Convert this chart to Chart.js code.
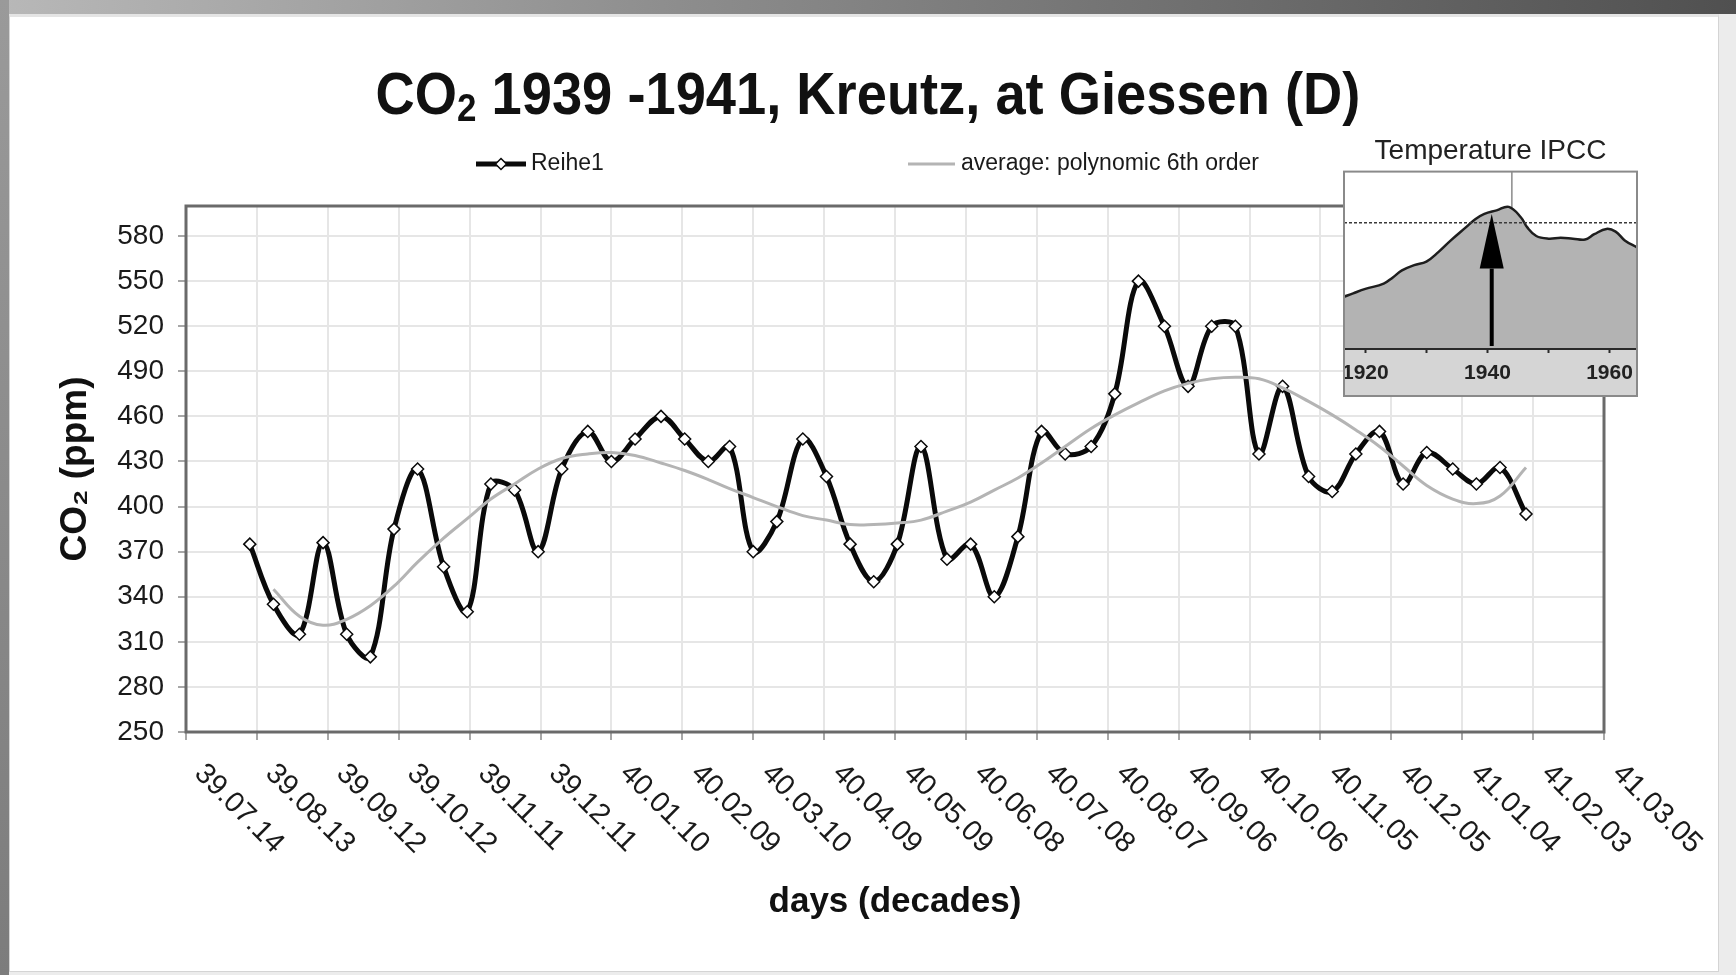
<!DOCTYPE html>
<html lang="en">
<head>
<meta charset="UTF-8">
<title>CO2 1939 -1941, Kreutz, at Giessen (D)</title>
<script src="https://cdn.jsdelivr.net/npm/chart.js"></script>
<style>
  html, body { margin: 0; padding: 0; }
  body {
    width: 1736px; height: 975px; position: relative; overflow: hidden;
    background: #ececec;
  }
  #topbar { position: absolute; left: 0; top: 0; width: 1736px; height: 14px;
    background: linear-gradient(to right, #b8b8b8, #8c8c8c 40%, #505050); }
  #leftbar { position: absolute; left: 0; top: 0; width: 9px; height: 975px;
    background: linear-gradient(to bottom, #9a9a9a, #7c7c7c); }
  #panel { position: absolute; left: 9px; top: 14px; width: 1710px; height: 958px;
    background: #fff; border: 1px solid #d4d4d4; border-top: 3px solid #e4e4e4; box-sizing: border-box; }
  #main { position: absolute; left: 0; top: 0; }
  #inset { position: absolute; left: 1330px; top: 124px; }
</style>
</head>
<body>
<div id="topbar"></div>
<div id="leftbar"></div>
<div id="panel"></div>
<canvas id="main" width="1736" height="975"></canvas>
<canvas id="inset" width="320" height="278"></canvas>

<script>
// axis tick labels (30 day steps, yy.mm.dd)
const tickLabels = ['39.07.14', '39.08.13', '39.09.12', '39.10.12', '39.11.11', '39.12.11',
                    '40.01.10', '40.02.09', '40.03.10', '40.04.09', '40.05.09', '40.06.08',
                    '40.07.08', '40.08.07', '40.09.06', '40.10.06', '40.11.05', '40.12.05',
                    '41.01.04', '41.02.03', '41.03.05'];
const yTicks = [250, 280, 310, 340, 370, 400, 430, 460, 490, 520, 550, 580];

// end of each decade (10 day period)
const dates = ['39.08.10', '39.08.20', '39.08.31', '39.09.10', '39.09.20', '39.09.30',
               '39.10.10', '39.10.20', '39.10.31', '39.11.10', '39.11.20', '39.11.30',
               '39.12.10', '39.12.20', '39.12.31', '40.01.10', '40.01.20', '40.01.31',
               '40.02.10', '40.02.20', '40.02.29', '40.03.10', '40.03.20', '40.03.31',
               '40.04.10', '40.04.20', '40.04.30', '40.05.10', '40.05.20', '40.05.31',
               '40.06.10', '40.06.20', '40.06.30', '40.07.10', '40.07.20', '40.07.31',
               '40.08.10', '40.08.20', '40.08.31', '40.09.10', '40.09.20', '40.09.30',
               '40.10.10', '40.10.20', '40.10.31', '40.11.10', '40.11.20', '40.11.30',
               '40.12.10', '40.12.20', '40.12.31', '41.01.10', '41.01.20', '41.01.31'];

// CO2 ppm, series "Reihe1"
const co2 = [375, 335, 315, 376, 315, 300, 385, 425, 360, 330,
             415, 411, 370, 425, 450, 430, 445, 460, 445, 430,
             440, 370, 390, 445, 420, 375, 350, 375, 440, 365,
             375, 340, 380, 450, 435, 440, 475, 550, 520, 480,
             520, 520, 435, 480, 420, 410, 435, 450, 415, 436,
             425, 415, 426, 395];

// polynomial trend
const trend = [null, 345, 327, 321, 325, 334, 347, 363, 379, 392,
               405, 415, 425, 432, 435, 436, 434, 429, 424, 418,
               412, 406, 400, 394, 391, 388, 388, 389, 391, 397,
               403, 411, 419, 429, 440, 452, 461, 469, 477, 482,
               485, 486, 485, 479, 470, 461, 451, 440, 427, 414,
               405, 402, 407, 426];

// inset "Temperature IPCC" (relative units, 0 = axis)
const insetYears = [1916.5, 1918, 1920, 1923, 1924.5, 1926, 1928, 1930, 1932, 1934,
                    1936.5, 1938, 1939.5, 1941.5, 1943.5, 1945.5, 1946.5, 1948, 1950, 1952,
                    1954, 1956, 1957.5, 1959.5, 1961, 1962.5, 1964.5];
const insetTemp = [29, 31, 33.5, 36.5, 40, 44, 47, 49, 54.5, 61,
                   68.5, 73, 76, 78, 80, 74, 68.5, 63.5, 62, 62.5,
                   62, 61.5, 64.5, 67.5, 66, 61, 57];
const insetLabels = [1920, 1940, 1960];
const refLevel = 71;
const markYear = 1944;
const arrowYear = 1940.7, arrowTip = 76, arrowBase = 45;

const FONT = '"Liberation Sans", Arial, sans-serif';

function dayOf(s) {
    const p = s.split('.').map(Number);
    return Date.UTC(1900 + p[0], p[1] - 1, p[2]) / 86400000;
}

// title, legend, plot frame and slanted date labels
const decor = {
    id: 'decor',
    beforeDatasetsDraw(chart) {
        const {ctx, chartArea: a} = chart;
        ctx.save();
        ctx.strokeStyle = '#6a6a6a';
        ctx.lineWidth = 3;
        ctx.strokeRect(a.left, a.top, a.right - a.left, a.bottom - a.top);
        ctx.restore();
    },
    afterDraw(chart) {
        const ctx = chart.ctx;
        const xs = chart.scales.x;
        ctx.save();

        // title with subscript 2, a bit condensed like the original
        const big = 'bold 59px ' + FONT, small = 'bold 38px ' + FONT;
        const a = 'CO', b = '2', c = ' 1939 -1941, Kreutz, at Giessen (D)';
        ctx.font = big;
        const wa = ctx.measureText(a).width, wc = ctx.measureText(c).width;
        ctx.font = small;
        const wb = ctx.measureText(b).width;
        ctx.save();
        ctx.translate(chart.width / 2, 114);
        ctx.scale(0.92, 1);
        let x = -(wa + wb + wc) / 2;
        ctx.fillStyle = '#111';
        ctx.textBaseline = 'alphabetic';
        ctx.font = big;   ctx.fillText(a, x, 0); x += wa;
        ctx.font = small; ctx.fillText(b, x, 7); x += wb;
        ctx.font = big;   ctx.fillText(c, x, 0);
        ctx.restore();

        // legend
        const ly = 164;
        ctx.lineCap = 'butt';
        ctx.strokeStyle = '#0a0a0a';
        ctx.lineWidth = 5;
        ctx.beginPath(); ctx.moveTo(476, ly); ctx.lineTo(526, ly); ctx.stroke();
        ctx.fillStyle = '#fff';
        ctx.lineWidth = 1.5;
        ctx.beginPath();
        ctx.moveTo(501, ly - 5.5); ctx.lineTo(506.5, ly); ctx.lineTo(501, ly + 5.5); ctx.lineTo(495.5, ly);
        ctx.closePath(); ctx.fill(); ctx.stroke();
        ctx.strokeStyle = '#b4b4b4';
        ctx.lineWidth = 3;
        ctx.beginPath(); ctx.moveTo(908, ly); ctx.lineTo(955, ly); ctx.stroke();
        ctx.font = '23px ' + FONT;
        ctx.fillStyle = '#1a1a1a';
        ctx.textBaseline = 'middle';
        ctx.fillText('Reihe1', 531, ly);
        ctx.fillText('average: polynomic 6th order', 961, ly);

        // date labels, slanted downwards
        ctx.font = '29px ' + FONT;
        ctx.textAlign = 'left';
        tickLabels.forEach(l => {
            const px = xs.getPixelForValue(dayOf(l));
            ctx.save();
            ctx.translate(px + 13, xs.top + 37);
            ctx.rotate(Math.PI / 4);
            ctx.fillText(l, 0, 0);
            ctx.restore();
        });
        ctx.restore();
    }
};

var gridOpts = { color: '#e6e6e6', lineWidth: 2, tickColor: '#8a8a8a', tickLength: 8, tickWidth: 1.5 };

var mainChart = new Chart(document.getElementById('main'), {
    type: 'line',
    data: {
        datasets: [
            {
                label: 'average: polynomic 6th order',
                data: dates.map((d, i) => ({x: dayOf(d), y: trend[i]})),
                borderColor: '#b4b4b4',
                borderWidth: 3,
                pointRadius: 0,
                tension: 0.4,
                order: 0
            },
            {
                label: 'Reihe1',
                data: dates.map((d, i) => ({x: dayOf(d), y: co2[i]})),
                borderColor: '#0a0a0a',
                borderWidth: 5,
                pointStyle: 'rectRot',
                pointRadius: 6,
                pointBackgroundColor: '#fff',
                pointBorderColor: '#0a0a0a',
                pointBorderWidth: 1.5,
                tension: 0.35,
                order: 1
            }
        ]
    },
    options: {
        responsive: false,
        animation: false,
        layout: { padding: { top: 206, right: 132, bottom: 0, left: 0 } },
        plugins: {
            legend: { display: false },
            tooltip: { enabled: false }
        },
        scales: {
            x: {
                type: 'linear',
                min: dayOf(tickLabels[0]),
                max: dayOf(tickLabels[tickLabels.length - 1]),
                afterBuildTicks: s => { s.ticks = tickLabels.map(l => ({value: dayOf(l)})); },
                afterFit: s => { s.height = 243; },
                border: { display: false },
                grid: gridOpts,
                ticks: { display: false },
                title: {
                    display: true,
                    text: 'days (decades)',
                    color: '#111',
                    font: { family: FONT, size: 35, weight: 'bold' },
                    padding: { top: 0, bottom: 52 }
                }
            },
            y: {
                min: 250,
                max: 600,
                afterBuildTicks: s => { s.ticks = yTicks.map(v => ({value: v})); },
                afterFit: s => { s.width = 186; },
                border: { display: false },
                grid: gridOpts,
                ticks: { color: '#1a1a1a', font: { family: FONT, size: 28 }, padding: 14 },
                title: {
                    display: true,
                    text: 'CO₂ (ppm)',
                    color: '#111',
                    font: { family: FONT, size: 37, weight: 'bold' },
                    padding: { top: 54, bottom: 0 }
                }
            }
        }
    },
    plugins: [decor]
});

// inset: box, grey band, reference line, marker and arrow
const insetDecor = {
    id: 'insetDecor',
    beforeDraw(chart) {
        const {ctx, chartArea: a} = chart;
        const xs = chart.scales.x;
        ctx.save();
        ctx.fillStyle = '#fff';
        ctx.fillRect(a.left, a.top, a.right - a.left, a.bottom - a.top);
        ctx.fillStyle = '#d5d5d5';
        ctx.fillRect(a.left, a.bottom, a.right - a.left, xs.bottom - a.bottom);
        ctx.restore();
    },
    beforeDatasetsDraw(chart) {
        const {ctx, chartArea: a} = chart;
        const mx = chart.scales.x.getPixelForValue(markYear);
        ctx.save();
        ctx.strokeStyle = '#8a8a8a';
        ctx.lineWidth = 1.5;
        ctx.beginPath(); ctx.moveTo(mx, a.top); ctx.lineTo(mx, a.bottom); ctx.stroke();
        ctx.restore();
    },
    afterDatasetsDraw(chart) {
        const {ctx, chartArea: a} = chart;
        const xs = chart.scales.x, ys = chart.scales.y;
        ctx.save();
        const ry = ys.getPixelForValue(refLevel);
        ctx.strokeStyle = '#3a3a3a';
        ctx.lineWidth = 1.5;
        ctx.setLineDash([3, 2]);
        ctx.beginPath(); ctx.moveTo(a.left, ry); ctx.lineTo(a.right, ry); ctx.stroke();
        ctx.setLineDash([]);

        const ax = xs.getPixelForValue(arrowYear);
        const tip = ys.getPixelForValue(arrowTip), base = ys.getPixelForValue(arrowBase);
        ctx.strokeStyle = '#000';
        ctx.lineWidth = 4;
        ctx.beginPath(); ctx.moveTo(ax, a.bottom - 2); ctx.lineTo(ax, base); ctx.stroke();
        ctx.fillStyle = '#000';
        ctx.beginPath();
        ctx.moveTo(ax, tip); ctx.lineTo(ax - 12, base); ctx.lineTo(ax + 12, base);
        ctx.closePath(); ctx.fill();
        ctx.restore();
    },
    afterDraw(chart) {
        const {ctx, chartArea: a} = chart;
        const xs = chart.scales.x;
        ctx.save();
        ctx.strokeStyle = '#8a8a8a';
        ctx.lineWidth = 2;
        ctx.strokeRect(a.left, a.top, a.right - a.left, xs.bottom - a.top);
        ctx.restore();
    }
};

var insetChart = new Chart(document.getElementById('inset'), {
    type: 'line',
    data: {
        datasets: [{
            data: insetYears.map((yr, i) => ({x: yr, y: insetTemp[i]})),
            borderColor: '#1e1e1e',
            borderWidth: 2.5,
            backgroundColor: '#b3b3b3',
            fill: 'origin',
            pointRadius: 0,
            tension: 0.4
        }]
    },
    options: {
        responsive: false,
        animation: false,
        layout: { padding: { left: 14, right: 13, top: 0, bottom: 6 } },
        plugins: {
            legend: { display: false },
            tooltip: { enabled: false },
            title: {
                display: true,
                text: 'Temperature IPCC',
                color: '#222',
                font: { family: FONT, size: 28, weight: 'normal' },
                padding: { top: 10, bottom: 4 }
            }
        },
        scales: {
            x: {
                type: 'linear',
                min: 1916.5,
                max: 1964.5,
                afterFit: s => { s.height = 48; },
                border: { color: '#2a2a2a', width: 3 },
                grid: { drawOnChartArea: false, tickLength: 5, tickColor: '#2a2a2a', tickWidth: 2 },
                ticks: {
                    stepSize: 10,
                    includeBounds: false,
                    autoSkip: false,
                    maxRotation: 0,
                    padding: 8,
                    color: '#222',
                    font: { family: FONT, size: 21, weight: 'bold' },
                    callback: v => insetLabels.includes(v) ? String(v) : ''
                }
            },
            y: { display: false, min: 0, max: 100 }
        }
    },
    plugins: [insetDecor]
});
</script>
</body>
</html>
